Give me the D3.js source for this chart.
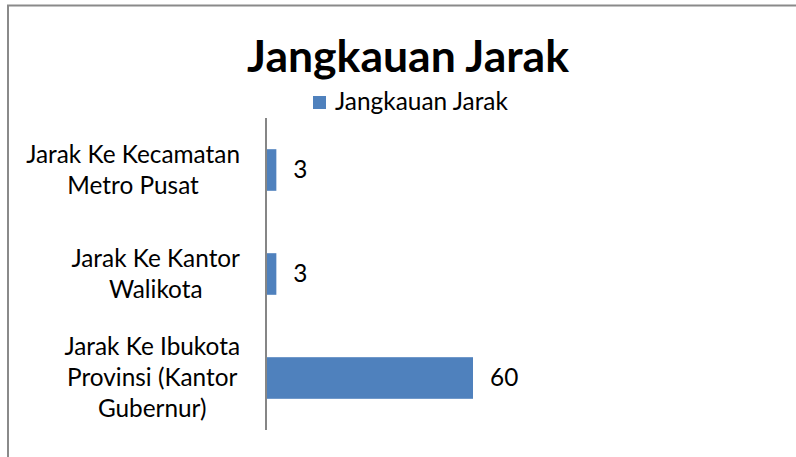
<!DOCTYPE html>
<html>
<head>
<meta charset="utf-8">
<script src="https://cdn.jsdelivr.net/npm/d3@7"></script>
<style>
  body { margin: 0; background: #fff; }
  svg { display: block; }
</style>
</head>
<body>
<div id="chart"></div>
<script>
const chartTitle = "Jangkauan Jarak";
const seriesName = "Jangkauan Jarak";
const categories = ["Jarak Ke Kecamatan Metro Pusat", "Jarak Ke Kantor Walikota", "Jarak Ke Ibukota Provinsi (Kantor Gubernur)"];
const labelLines = [["Jarak Ke Kecamatan", "Metro Pusat"], ["Jarak Ke Kantor", "Walikota"], ["Jarak Ke Ibukota", "Provinsi (Kantor", "Gubernur)"]];
const values = [3, 3, 60];

const width = 796, height = 457;
const font = "Lato, 'Open Sans', sans-serif";
const barColor = "#4F81BD";

const svg = d3.select("#chart")
  .append("svg")
  .attr("width", width)
  .attr("height", height);

// size a font so a string reaches a given width
function fitSize(text, target, weight) {
  const t = svg.append("text")
    .style("font-family", font)
    .style("font-weight", weight || "normal")
    .style("font-size", "100px")
    .text(text);
  const w = t.node().getComputedTextLength();
  t.remove();
  return 100 * target / w;
}

const titleSize = fitSize(chartTitle, 322, "bold");
const legendSize = fitSize(seriesName, 173);
const labelSize = fitSize("Jarak Ke Kecamatan", 214);

// chart border (only top and left visible)
svg.append("path")
  .attr("d", `M8,${height} V5.5 H${width}`)
  .attr("fill", "none")
  .attr("stroke", "#8a8a8a")
  .attr("stroke-width", 2);

svg.append("text")
  .attr("x", 408)
  .attr("y", 72)
  .attr("text-anchor", "middle")
  .style("font-family", font)
  .style("font-weight", "bold")
  .style("font-size", titleSize + "px")
  .attr("fill", "#000")
  .text(chartTitle);

// legend
svg.append("rect")
  .attr("x", 313)
  .attr("y", 96)
  .attr("width", 13)
  .attr("height", 13)
  .attr("fill", barColor);

svg.append("text")
  .attr("x", 335)
  .attr("y", 110)
  .style("font-family", font)
  .style("font-size", legendSize + "px")
  .attr("fill", "#000")
  .text(seriesName);

const x = d3.scaleLinear()
  .domain([0, 60])
  .range([266, 473]);

const y = d3.scaleBand()
  .domain(categories)
  .range([118, 430])
  .paddingInner(0.6)
  .paddingOuter(0.3);

svg.selectAll(".bar")
  .data(values)
  .enter()
  .append("rect")
  .attr("class", "bar")
  .attr("x", x(0))
  .attr("y", (d, i) => y(categories[i]))
  .attr("width", d => x(d) - x(0))
  .attr("height", y.bandwidth())
  .attr("fill", barColor);

// category axis line
svg.append("line")
  .attr("x1", x(0))
  .attr("x2", x(0))
  .attr("y1", y.range()[0])
  .attr("y2", y.range()[1])
  .attr("stroke", "#868686")
  .attr("stroke-width", 2);

// category labels: block right-aligned, lines centred
const lineH = 31;
categories.forEach((c, i) => {
  const lines = labelLines[i];
  const g = svg.append("text")
    .style("font-family", font)
    .style("font-size", labelSize + "px")
    .attr("fill", "#000")
    .attr("text-anchor", "middle");
  const spans = lines.map((l, j) => g.append("tspan")
    .attr("y", y(c) + y.bandwidth() / 2 + (j - (lines.length - 1) / 2) * lineH + 8)
    .text(l));
  const maxW = d3.max(spans, s => s.node().getComputedTextLength());
  spans.forEach(s => s.attr("x", 240 - maxW / 2));
});

// value labels
svg.selectAll(".val")
  .data(values)
  .enter()
  .append("text")
  .attr("class", "val")
  .attr("x", d => x(d) + 17)
  .attr("y", (d, i) => y(categories[i]) + y.bandwidth() / 2 + 8)
  .style("font-family", font)
  .style("font-size", labelSize + "px")
  .attr("fill", "#000")
  .text(d => d);
</script>
</body>
</html>
